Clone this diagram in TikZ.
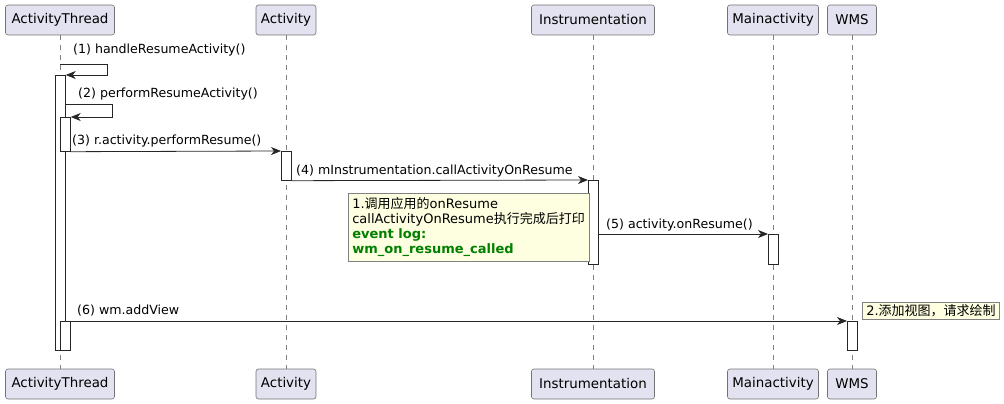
\documentclass[tikz,border=0pt]{standalone}
\usepackage{fontspec}
\setmainfont{DejaVu Sans}
\newfontfamily\cjk{Noto Sans CJK SC}
\usetikzlibrary{arrows.meta}
\definecolor{partfill}{RGB}{226,226,240}
\definecolor{notefill}{RGB}{254,254,224}
\definecolor{loggreen}{RGB}{0,128,0}

\begin{document}
\begin{tikzpicture}[x=1pt, y=-1pt,
  part/.style={draw=gray!90!black, fill=partfill, rounded corners=2.5pt, line width=0.6pt,
    minimum height=30pt, inner sep=0pt, font=\fontsize{13.4}{15}\selectfont},
  life/.style={draw=gray, line width=0.5pt, dash pattern=on 5pt off 5pt},
  act/.style={draw=black!85, fill=white, line width=0.7pt, minimum width=10pt, inner sep=0pt, anchor=north west},
  msg/.style={draw=black!85, line width=0.8pt, -{Stealth[length=10pt, width=8pt, inset=3pt]}},
  lbl/.style={anchor=west, inner sep=0pt, font=\fontsize{12.6}{15}\selectfont},
  note/.style={draw=gray, fill=notefill, line width=0.6pt, anchor=north west, inner sep=4pt,
    align=left, font=\fontsize{13}{15}\selectfont}]
\useasboundingbox (0,0) rectangle (1004,404);

% participants, top and bottom
\node[part, minimum width=109pt] (atT) at (60,20) {ActivityThread};
\node[part, minimum width=60pt] (acT) at (286,20) {Activity};
\node[part, minimum width=123pt] (inT) at (593,20) {Instrumentation};
\node[part, minimum width=91pt] (maT) at (773,20) {Mainactivity};
\node[part, minimum width=49pt] (wmT) at (852,20) {WMS};
\node[part, minimum width=109pt] (atB) at (60,384) {ActivityThread};
\node[part, minimum width=60pt] (acB) at (286,384) {Activity};
\node[part, minimum width=123pt] (inB) at (593,384) {Instrumentation};
\node[part, minimum width=91pt] (maB) at (773,384) {Mainactivity};
\node[part, minimum width=49pt] (wmB) at (852,384) {WMS};

\draw[life] (atT)--(atB);
\draw[life] (acT)--(acB);
\draw[life] (inT)--(inB);
\draw[life] (maT)--(maB);
\draw[life] (wmT)--(wmB);

% activations
\node[act, minimum height=275pt] (at1) at (55,75) {};
\node[act, minimum height=34pt] (at2) at (60,117) {};
\node[act, minimum height=29pt] (at3) at (60,321) {};
\node[act, minimum height=29pt] (ac1) at (281,151) {};
\node[act, minimum height=84pt] (in1) at (588,180) {};
\node[act, minimum height=30pt] (ma1) at (768,234) {};
\node[act, minimum height=29pt] (wm1) at (847,321) {};

% messages
\coordinate (c1) at (60,64);
\coordinate (c2) at (65,104);
\draw[msg] (c1) -- ++(47,0) |- (at1.north east);
\node[lbl] (l1) at (73,50) {(1) handleResumeActivity()};
\draw[msg] (c2) -- ++(47,0) |- (at2.north east);
\node[lbl] (l2) at (78,94) {(2) performResumeActivity()};
\draw[msg] (at2.south east) -- (ac1.north west);
\node[lbl] (l3) at (72,141) {(3) r.activity.performResume()};
\draw[msg] (ac1.south east) -- (in1.north west);
\node[lbl] (l4) at (296,171) {(4) mInstrumentation.callActivityOnResume};
\draw[msg] (in1.east |- ma1.north) -- (ma1.north west);
\node[lbl] (l5) at (606,225) {(5) activity.onResume()};
\draw[msg] (at3.north east) -- (wm1.north west);
\node[lbl] (l6) at (77,311) {(6) wm.addView};

% notes
\node[note, minimum width=236pt, minimum height=68pt] (n1) at (348,193)
  {1.{\cjk 调用应用的}onResume\\callActivityOnResume{\cjk 执行完成后打印}\\
   \textcolor{loggreen}{\bfseries event log:}\\\textcolor{loggreen}{\bfseries wm\_on\_resume\_called}};
\node[note, minimum width=137pt, minimum height=17pt, inner ysep=0pt] (n2) at (862,302)
  {2.{\cjk 添加视图，请求绘制}};
\end{tikzpicture}
\end{document}
